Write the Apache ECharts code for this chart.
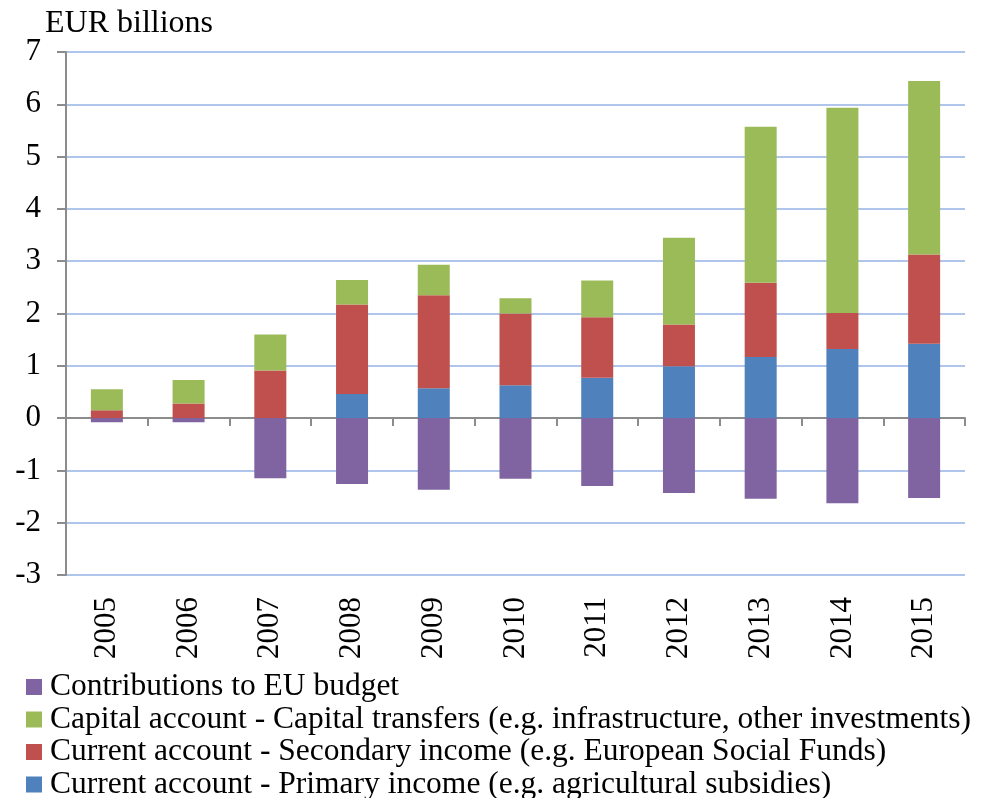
<!DOCTYPE html>
<html>
<head>
<meta charset="utf-8">
<script src="https://cdn.jsdelivr.net/npm/echarts@6/dist/echarts.min.js"></script>
<style>
  html, body { margin: 0; padding: 0; background: #fff; }
  #chart { width: 986px; height: 798px; }
</style>
</head>
<body>
<div id="chart"></div>
<script>
// EU flows, EUR billions, by year
const years = ['2005', '2006', '2007', '2008', '2009', '2010', '2011', '2012', '2013', '2014', '2015'];
const primaryIncome   = [0, 0, 0, 0.46, 0.57, 0.63, 0.77, 0.99, 1.17, 1.32, 1.42];
const secondaryIncome = [0.15, 0.28, 0.91, 1.71, 1.78, 1.37, 1.16, 0.80, 1.42, 0.69, 1.71];
const capitalTransfers = [0.40, 0.45, 0.69, 0.47, 0.58, 0.29, 0.70, 1.66, 2.98, 3.925, 3.315];
const euContributions = [-0.08, -0.08, -1.15, -1.26, -1.37, -1.16, -1.30, -1.43, -1.54, -1.63, -1.53];
const yTicks = { min: -3, max: 7, interval: 1 };

const names = {
  contrib: 'Contributions to EU budget',
  capital: 'Capital account - Capital transfers (e.g. infrastructure, other investments)',
  secondary: 'Current account - Secondary income (e.g. European Social Funds)',
  primary: 'Current account - Primary income (e.g. agricultural subsidies)'
};

const FONT = '"Liberation Serif", "DejaVu Serif", serif';
const axisGray = '#8c8c8c';

const chart = echarts.init(document.getElementById('chart'), null, { renderer: 'canvas' });

function bar(name, data, color) {
  return {
    name: name,
    type: 'bar',
    stack: 'total',
    xAxisIndex: 0,
    barWidth: 32,
    data: data,
    itemStyle: { color: color },
    emphasis: { disabled: true }
  };
}

chart.setOption({
  animation: false,
  backgroundColor: '#ffffff',
  textStyle: { fontFamily: FONT },
  title: {
    text: 'EUR billions',
    left: 40,
    top: 3,
    textStyle: { fontFamily: FONT, fontSize: 32, fontWeight: 'normal', color: '#000' }
  },
  legend: {
    orient: 'vertical',
    left: 26,
    top: 671,
    width: 960,
    height: 200,
    itemWidth: 16,
    itemHeight: 16,
    itemGap: 0.5,
    icon: 'rect',
    padding: 0,
    data: [names.contrib, names.capital, names.secondary, names.primary],
    textStyle: { fontFamily: FONT, fontSize: 31.5, color: '#000', lineHeight: 31, padding: [0, 0, 0, 3] },
    selectedMode: false
  },
  grid: { left: 66, right: 21, top: 52, bottom: 223, containLabel: false },
  xAxis: [
    {
      type: 'category',
      data: years,
      axisLine: { onZero: true, lineStyle: { color: axisGray, width: 2 } },
      axisTick: { show: true, length: 8, alignWithLabel: false, lineStyle: { color: axisGray, width: 2 } },
      axisLabel: { show: false },
      splitLine: { show: false }
    },
    {
      type: 'category',
      data: years,
      position: 'bottom',
      axisLine: { show: false, onZero: false },
      axisTick: { show: false },
      axisLabel: {
        show: true,
        rotate: 90,
        margin: 22,
        fontFamily: FONT,
        fontSize: 31,
        color: '#000'
      },
      splitLine: { show: false }
    }
  ],
  yAxis: {
    type: 'value',
    min: yTicks.min,
    max: yTicks.max,
    interval: yTicks.interval,
    axisLine: { show: true, lineStyle: { color: axisGray, width: 2 } },
    axisTick: { show: true, length: 9, lineStyle: { color: axisGray, width: 2 } },
    axisLabel: { margin: 25, fontFamily: FONT, fontSize: 31, color: '#000' },
    splitLine: { show: true, lineStyle: { color: '#b0c5ec', width: 2 } }
  },
  series: [
    bar(names.primary, primaryIncome, '#4f81bd'),
    bar(names.secondary, secondaryIncome, '#c0504d'),
    bar(names.capital, capitalTransfers, '#9bbb59'),
    bar(names.contrib, euContributions, '#8064a2')
  ]
});
</script>
</body>
</html>
